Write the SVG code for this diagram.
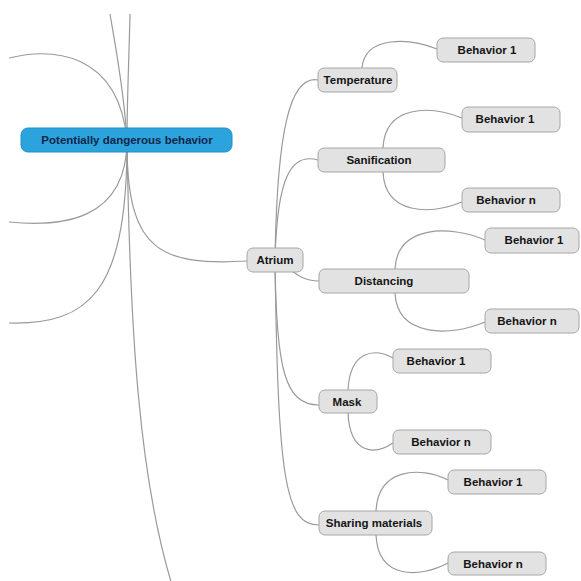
<svg xmlns="http://www.w3.org/2000/svg" width="581" height="581" viewBox="0 0 581 581">
<style>
.c{fill:none;stroke:#9a9a9a;stroke-width:1.2}
.n rect{fill:#e2e2e2;stroke:#a6a6a6;stroke-width:1}
.n text{font-family:"Liberation Sans",Arial,sans-serif;font-weight:bold;font-size:11.5px;fill:#151515;text-anchor:middle}
#root rect{fill:#2ba3dc;stroke:#2090c6}
#root text{fill:#12264a}
</style>
<rect width="581" height="581" fill="#fff"/>
<g id="connectors">
<path class="c" d="M110,14 C116,50 124,90 127,140"/>
<path class="c" d="M130,14 C129,60 127,100 127,140"/>
<path class="c" d="M9,58 C50,48 118,50 127,140"/>
<path class="c" d="M127,140 C127,222 60,227 9,222"/>
<path class="c" d="M127,152 C125,290 90,325 9,323"/>
<path class="c" d="M127,140 C130,340 140,480 172,585"/>
<path class="c" d="M127,152 C129,250 160,266 247,261"/>
<path class="c" d="M275,260 C277,130 290,75 318,80"/>
<path class="c" d="M275,260 C277,180 290,152 318,160"/>
<path class="c" d="M280,262 C292,270 300,281 319,281"/>
<path class="c" d="M275,260 C276,370 285,405 319,405"/>
<path class="c" d="M275,260 C278,480 285,525 319,525"/>
<path class="c" d="M362,68 C365,35 410,38 437,49"/>
<path class="c" d="M383,148 C385,105 430,105 462,118"/>
<path class="c" d="M383,172 C385,215 430,215 462,202"/>
<path class="c" d="M395,269 C397,225 450,225 485,240"/>
<path class="c" d="M395,293 C397,337 450,337 485,322"/>
<path class="c" d="M348,390 C350,350 375,348 393,358"/>
<path class="c" d="M348,413 C350,455 375,455 393,443"/>
<path class="c" d="M376,511 C378,468 420,466 448,480"/>
<path class="c" d="M376,535 C378,580 420,578 448,563"/>
</g>
<g id="root" class="n"><rect x="21" y="128" width="211" height="24" rx="7"/><text x="127" y="144">Potentially dangerous behavior</text></g>
<g id="atrium" class="n"><rect x="247" y="248" width="56" height="24" rx="6"/><text x="275" y="264">Atrium</text></g>
<g id="temperature" class="n"><rect x="318" y="68" width="79" height="24" rx="6"/><text x="358" y="84">Temperature</text></g>
<g id="temperature-b1" class="n"><rect x="437" y="38" width="98" height="24" rx="6"/><text x="487" y="54">Behavior 1</text></g>
<g id="sanification" class="n"><rect x="318" y="148" width="127" height="24" rx="6"/><text x="379" y="164">Sanification</text></g>
<g id="sanification-b1" class="n"><rect x="462" y="107" width="98" height="25" rx="6"/><text x="505" y="123">Behavior 1</text></g>
<g id="sanification-bn" class="n"><rect x="462" y="188" width="98" height="24" rx="6"/><text x="506" y="204">Behavior n</text></g>
<g id="distancing" class="n"><rect x="319" y="269" width="150" height="24" rx="6"/><text x="384" y="285">Distancing</text></g>
<g id="distancing-b1" class="n"><rect x="485" y="228" width="94" height="25" rx="6"/><text x="534" y="244">Behavior 1</text></g>
<g id="distancing-bn" class="n"><rect x="485" y="309" width="94" height="24" rx="6"/><text x="527" y="325">Behavior n</text></g>
<g id="mask" class="n"><rect x="319" y="390" width="58" height="23" rx="6"/><text x="347" y="406">Mask</text></g>
<g id="mask-b1" class="n"><rect x="393" y="349" width="98" height="24" rx="6"/><text x="436" y="365">Behavior 1</text></g>
<g id="mask-bn" class="n"><rect x="393" y="430" width="98" height="24" rx="6"/><text x="441" y="446">Behavior n</text></g>
<g id="sharing" class="n"><rect x="319" y="511" width="113" height="24" rx="6"/><text x="374" y="527">Sharing materials</text></g>
<g id="sharing-b1" class="n"><rect x="448" y="470" width="98" height="24" rx="6"/><text x="493" y="486">Behavior 1</text></g>
<g id="sharing-bn" class="n"><rect x="448" y="552" width="98" height="23" rx="6"/><text x="493" y="568">Behavior n</text></g>
</svg>
